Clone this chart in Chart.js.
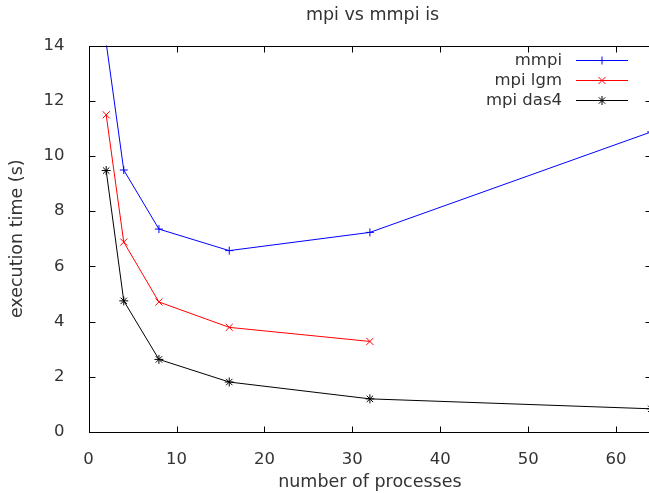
<!DOCTYPE html>
<html><head><meta charset="utf-8">
<script src="https://cdn.jsdelivr.net/npm/chart.js@4/dist/chart.umd.min.js"></script>
<style>html,body{margin:0;padding:0;overflow:hidden;background:#fff;width:649px;height:493px}canvas{display:block}</style>
</head><body>
<canvas id="c" width="660" height="493" style="width:660px;height:493px"></canvas>
<script>
const chartTitle = 'mpi vs mmpi is';
const xTitle = 'number of processes';
const yTitle = 'execution time (s)';
const seriesNames = ['mmpi', 'mpi lgm', 'mpi das4'];
const processes = [2, 4, 8, 16, 32, 64];
const mmpi = [14.1, 9.49, 7.35, 6.57, 7.23, 10.87];
const mpiLgm = [11.49, 6.88, 4.71, 3.79, 3.28];
const mpiDas4 = [9.47, 4.75, 2.63, 1.81, 1.2, 0.84];
const xTicks = [0, 10, 20, 30, 40, 50, 60];
const yTicks = [0, 2, 4, 6, 8, 10, 12, 14];

const colors = ['#0000ff', '#ff0000', '#000000'];
const styles = ['cross', 'crossRot', 'star'];
const radii = [4, 5, 4.5];
const FONT = 'DejaVu Sans';
const TEXT = '#333';

function pts(vals) { return vals.map((v, i) => ({x: processes[i], y: v})); }

const datasets = [mmpi, mpiLgm, mpiDas4].map((vals, i) => ({
  label: seriesNames[i],
  data: pts(vals),
  borderColor: colors[i],
  backgroundColor: colors[i],
  borderWidth: 1,
  pointStyle: styles[i],
  pointRadius: ctx => (ctx.raw && ctx.raw.y > 14) ? 0 : radii[i],
  pointBorderWidth: 1,
  pointBorderColor: colors[i],
  tension: 0,
  fill: false
}));

function drawMarker(ctx, style, r, x, y) {
  ctx.beginPath();
  if (style === 'cross' || style === 'star') {
    ctx.moveTo(x - r, y); ctx.lineTo(x + r, y);
    ctx.moveTo(x, y - r); ctx.lineTo(x, y + r);
  }
  if (style === 'crossRot' || style === 'star') {
    const d = r * Math.cos(Math.PI / 4);
    ctx.moveTo(x - d, y - d); ctx.lineTo(x + d, y + d);
    ctx.moveTo(x - d, y + d); ctx.lineTo(x + d, y - d);
  }
  ctx.stroke();
}

const framePlugin = {
  id: 'frame',
  afterDraw(chart) {
    const ctx = chart.ctx;
    const a = chart.chartArea;
    const L = Math.round(a.left) + 0.5, R = Math.round(a.right) + 0.5;
    const T = Math.round(a.top) + 0.5, B = Math.round(a.bottom) + 0.5;
    ctx.save();
    ctx.strokeStyle = '#000';
    ctx.lineWidth = 1;
    ctx.strokeRect(L, T, R - L, B - T);
    const tl = 6;
    ctx.beginPath();
    const xs = chart.scales.x, ys = chart.scales.y;
    xs.ticks.forEach(t => {
      const px = Math.round(xs.getPixelForValue(t.value)) + 0.5;
      ctx.moveTo(px, B); ctx.lineTo(px, B - tl);
      ctx.moveTo(px, T); ctx.lineTo(px, T + tl);
    });
    ys.ticks.forEach(t => {
      const py = Math.round(ys.getPixelForValue(t.value)) + 0.5;
      ctx.moveTo(L, py); ctx.lineTo(L + tl, py);
      ctx.moveTo(R, py); ctx.lineTo(R - tl, py);
    });
    ctx.stroke();

    // title
    ctx.fillStyle = TEXT;
    ctx.font = '17.5px "' + FONT + '"';
    ctx.textAlign = 'center';
    ctx.textBaseline = 'alphabetic';
    ctx.fillText(chartTitle, 372.5, 20);

    // legend
    ctx.font = '16.5px "' + FONT + '"';
    ctx.textAlign = 'right';
    chart.data.datasets.forEach((ds, i) => {
      const y = 60.5 + i * 20;
      ctx.fillStyle = TEXT;
      ctx.fillText(ds.label, 562, y + 4.5);
      ctx.strokeStyle = ds.borderColor;
      ctx.lineWidth = 1;
      ctx.beginPath();
      ctx.moveTo(576, y); ctx.lineTo(628, y);
      ctx.stroke();
      drawMarker(ctx, styles[i], radii[i], 602, y);
    });
    ctx.restore();
  }
};

new Chart(document.getElementById('c'), {
  type: 'line',
  data: {datasets},
  options: {
    responsive: false,
    devicePixelRatio: 1,
    animation: false,
    layout: {padding: {left: 0, top: 45.5, right: 8.8, bottom: 0}},
    plugins: {legend: {display: false}, title: {display: false}, tooltip: {enabled: false}},
    scales: {
      x: {
        type: 'linear', min: 0, max: 64,
        afterBuildTicks: s => { s.ticks = xTicks.map(v => ({value: v})); },
        afterFit: s => { s.height = 61; },
        grid: {display: false},
        border: {display: false},
        ticks: {padding: 10, color: TEXT, font: {family: FONT, size: 16.5}, maxRotation: 0},
        title: {display: true, text: xTitle, color: TEXT, font: {family: FONT, size: 17.5}, padding: {top: 0, bottom: 0}}
      },
      y: {
        type: 'linear', min: 0, max: 14,
        afterBuildTicks: s => { s.ticks = yTicks.map(v => ({value: v})); },
        afterFit: s => { s.width = 88.6; },
        grid: {display: false},
        border: {display: false},
        ticks: {padding: 16, color: TEXT, font: {family: FONT, size: 16.5}},
        title: {display: true, text: yTitle, color: TEXT, font: {family: FONT, size: 17.5}, padding: {top: 7.1, bottom: 0}}
      }
    }
  },
  plugins: [framePlugin]
});
</script>
</body></html>
